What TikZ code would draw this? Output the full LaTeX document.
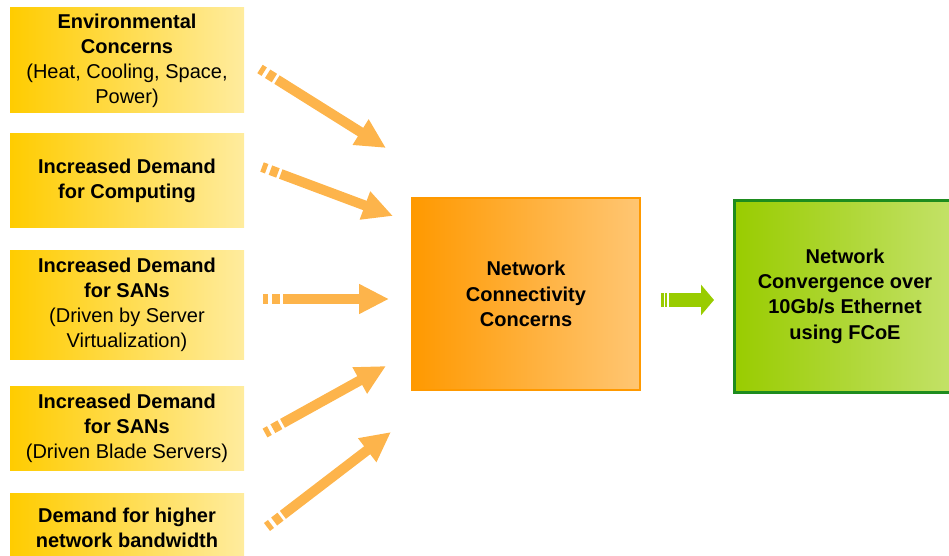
\documentclass[tikz,border=0pt]{standalone}
\usepackage{fontspec}
\setmainfont{Liberation Sans}
\usetikzlibrary{arrows.meta}
\definecolor{boxgold}{HTML}{FFCC00}
\definecolor{boxpale}{HTML}{FFEC9E}
\definecolor{concdark}{HTML}{FF9900}
\definecolor{conclight}{HTML}{FFC673}
\definecolor{convdark}{HTML}{99CC00}
\definecolor{convlight}{HTML}{C4E26A}
\definecolor{convedge}{HTML}{1E8C1E}
\definecolor{feedorange}{HTML}{FDB44B}
\begin{document}
\begin{tikzpicture}[x=1pt, y=-1pt,
        needbox/.style={minimum width=234pt, inner sep=0pt, align=center,
            font=\fontsize{20}{25}\selectfont\bfseries,
            left color=boxgold, right color=boxpale},
        bigbox/.style={inner sep=0pt, align=center,
            font=\fontsize{20}{25.3}\selectfont\bfseries, minimum height=192pt},
        feedarrow/.style={feedorange, line width=10pt,
            -{Triangle[length=30pt, width=28pt]},
            dash pattern=on 5pt off 4pt on 8pt off 3pt on 400pt}]
    \useasboundingbox (0, 0) rectangle (949, 556);
    \clip (0, 0) rectangle (949, 556);

    % causes on the left
    \node[needbox, minimum height=105pt] (env) at (127, 60.5)
        {Environmental\\Concerns\\{\mdseries (Heat, Cooling, Space,}\\{\mdseries Power)}};
    \node[needbox, minimum height=93pt] (comp) at (127, 180.5)
        {Increased Demand\\for Computing};
    \node[needbox, minimum height=109pt] (sanvirt) at (127, 304.5)
        {Increased Demand\\for SANs\\{\mdseries (Driven by Server}\\{\mdseries Virtualization)}};
    \node[needbox, minimum height=84pt] (sanblade) at (127, 428)
        {Increased Demand\\for SANs\\{\mdseries (Driven Blade Servers)}};
    \node[needbox, minimum height=70pt] (bandw) at (127, 528)
        {Demand for higher\\network bandwidth};

    % middle and result
    \node[bigbox, draw=concdark, line width=2pt, left color=concdark, right color=conclight,
        minimum width=228pt] (conc) at (526, 294)
        {Network\\Connectivity\\Concerns};
    \node[bigbox, draw=convedge, line width=3pt, left color=convdark, right color=convlight,
        minimum width=222pt] (conv) at (845, 296)
        {Network\\Convergence over\\10Gb/s Ethernet\\using FCoE};

    % arrow ends
    \coordinate (envs) at (260, 69);       \coordinate (envt) at (386, 148);
    \coordinate (comps) at (262, 167);     \coordinate (compt) at (393, 216);
    \coordinate (sanvirts) at (263, 299);  \coordinate (sanvirtt) at (389, 299);
    \coordinate (sanblades) at (265, 433); \coordinate (sanbladet) at (386, 366);
    \coordinate (bandws) at (267, 527);    \coordinate (bandwt) at (391, 432);
    \coordinate (convs) at (661, 300);     \coordinate (convt) at (714, 300);

    \foreach \n in {env, comp, sanvirt, sanblade, bandw}
        \draw[feedarrow] (\n s) -- (\n t);
    \draw[convdark, line width=14pt, -{Triangle[length=13pt, width=30pt]},
        dash pattern=on 2.5pt off 1.2pt on 2pt off 2.3pt on 100pt] (convs) -- (convt);
\end{tikzpicture}
\end{document}
